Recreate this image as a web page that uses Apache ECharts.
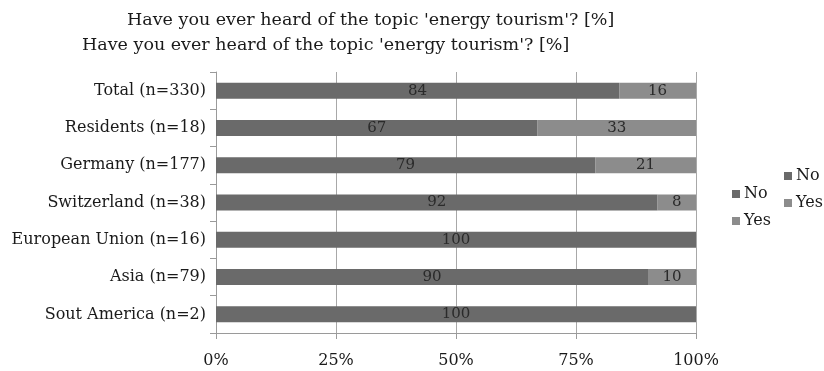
<!DOCTYPE html>
<html>
<head>
<meta charset="utf-8">
<script src="https://cdn.jsdelivr.net/npm/echarts@6/dist/echarts.min.js"></script>
<style>
  html, body { margin: 0; padding: 0; background: #fff; }
  #chart { width: 824px; height: 371px; }
</style>
</head>
<body>
<div id="chart"></div>
<script>
// Survey groups and answer shares (%)
const categories = [
  'Total (n=330)',
  'Residents (n=18)',
  'Germany (n=177)',
  'Switzerland (n=38)',
  'European Union (n=16)',
  'Asia (n=79)',
  'Sout America (n=2)'
];
const noValues = [84, 67, 79, 92, 100, 90, 100];
const yesValues = [16, 33, 21, 8, 0, 10, 0];
const tickLabels = ['0%', '25%', '50%', '75%', '100%'];
const titleText = "Have you ever heard of the topic 'energy tourism'? [%]";

const serif = "'DejaVu Serif', 'Liberation Serif', serif";
const noColor = '#6a6a6a';
const yesColor = '#8c8c8c';

const chart = echarts.init(document.getElementById('chart'));

const labelStyle = {
  show: true,
  position: 'inside',
  color: '#2a2a2a',
  fontFamily: serif,
  fontSize: 15,
  formatter: p => (p.value > 0 ? String(p.value) : '')
};

const legendText = { fontFamily: serif, fontSize: 16, color: '#1a1a1a', padding: [0, 0, 0, -1] };

chart.setOption({
  animation: false,
  title: [
    { text: titleText, left: 122, top: 6,
      textStyle: { fontFamily: serif, fontSize: 17.5, fontWeight: 'normal', color: '#1a1a1a' } },
    { text: titleText, left: 77, top: 31,
      textStyle: { fontFamily: serif, fontSize: 17.5, fontWeight: 'normal', color: '#1a1a1a' } }
  ],
  legend: [
    { data: ['No', 'Yes'], orient: 'vertical', left: 727, top: 181,
      icon: 'rect', itemWidth: 8, itemHeight: 8, itemGap: 11,
      textStyle: legendText },
    { data: ['No', 'Yes'], orient: 'vertical', left: 779, top: 163,
      icon: 'rect', itemWidth: 8, itemHeight: 8, itemGap: 11,
      textStyle: legendText }
  ],
  grid: { left: 216, right: 128, top: 72, height: 261, containLabel: false },
  xAxis: {
    type: 'value', min: 0, max: 100, interval: 25,
    axisLine: { show: true, lineStyle: { color: '#9a9a9a' } },
    axisTick: { show: true, length: 6, lineStyle: { color: '#9a9a9a' } },
    splitLine: { show: true, lineStyle: { color: '#a8a8a8', width: 1 } },
    axisLabel: {
      margin: 20, fontFamily: serif, fontSize: 16, color: '#1a1a1a',
      formatter: v => tickLabels[Math.round(v / 25)]
    }
  },
  yAxis: {
    type: 'category', data: categories, inverse: true,
    axisLine: { show: true, lineStyle: { color: '#9a9a9a' } },
    axisTick: { show: true, length: 6, lineStyle: { color: '#9a9a9a' } },
    axisLabel: { margin: 10, fontFamily: serif, fontSize: 16, color: '#1a1a1a' }
  },
  series: [
    { name: 'No', type: 'bar', stack: 'all', data: noValues, barWidth: 16,
      itemStyle: { color: noColor }, label: labelStyle },
    { name: 'Yes', type: 'bar', stack: 'all', data: yesValues, barWidth: 16,
      itemStyle: { color: yesColor }, label: labelStyle }
  ]
});
</script>
</body>
</html>
